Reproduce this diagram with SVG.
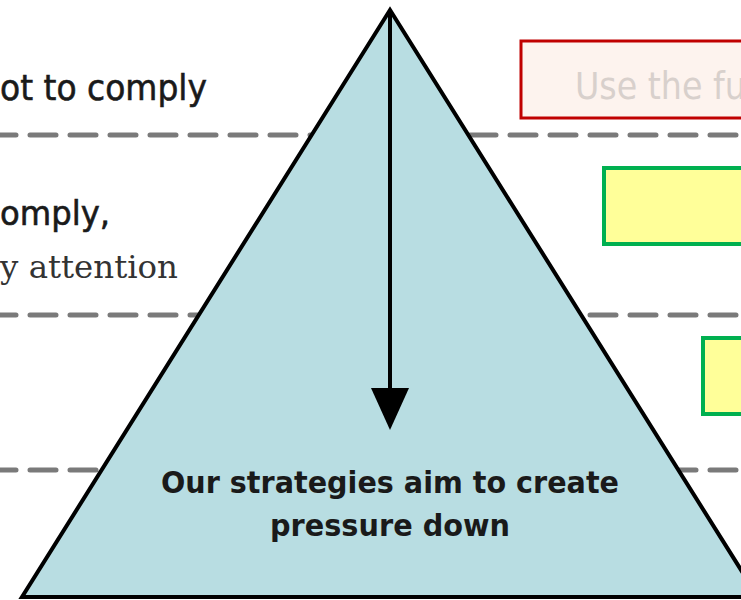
<svg xmlns="http://www.w3.org/2000/svg" width="741" height="600" viewBox="0 0 741 600">
<defs>
<style>
.dash{stroke:#7a7a7a;stroke-width:5;stroke-dasharray:26 14;stroke-linecap:round;fill:none}
.lbl{font-family:"DejaVu Sans",Verdana,sans-serif;fill:#1a1a1a}
.heavy{stroke:#1a1a1a;stroke-width:0.6}
.gbox{fill:#ffff99;stroke:#00b050;stroke-width:4}
</style>
</defs>
<rect width="741" height="600" fill="#ffffff"/>
<g id="connectors">
<line class="dash" x1="-10" y1="135" x2="760" y2="135"/>
<line class="dash" x1="-10" y1="315" x2="760" y2="315"/>
<line class="dash" x1="-10" y1="470" x2="760" y2="470"/>
</g>
<g id="label-1"><text class="lbl heavy" x="0" y="100" font-size="36" textLength="207" lengthAdjust="spacingAndGlyphs">ot to comply</text></g>
<g id="label-2"><text class="lbl heavy" x="0" y="225" font-size="33" textLength="110" lengthAdjust="spacingAndGlyphs">omply,</text>
<text x="0" y="278" font-size="32" fill="#333" font-family="'DejaVu Serif','Liberation Serif',serif" textLength="178" lengthAdjust="spacingAndGlyphs">y attention</text></g>
<g id="box-red"><rect x="521" y="41" width="240" height="77" fill="#fdf3ee" stroke="#c00000" stroke-width="3"/>
<text x="575" y="99" font-size="37" fill="#d8d0cc" font-family="'DejaVu Sans Condensed','DejaVu Sans',sans-serif">Use the fu</text></g>
<g id="box-green-1"><rect class="gbox" x="604" y="168" width="160" height="76"/></g>
<g id="box-green-2"><rect class="gbox" x="703" y="338" width="60" height="76"/></g>
<g id="pyramid">
<polygon points="390,10 22,597 758,597" fill="#b8dde2" stroke="#000" stroke-width="4" stroke-linejoin="miter"/>
<line x1="390" y1="10" x2="390" y2="392" stroke="#000" stroke-width="4"/>
<polygon points="371,388 409,388 390,430" fill="#000"/>
<text class="lbl" x="390" y="493" font-size="30" font-weight="bold" text-anchor="middle" textLength="458" lengthAdjust="spacingAndGlyphs">Our strategies aim to create</text>
<text class="lbl" x="390" y="536" font-size="30" font-weight="bold" text-anchor="middle" textLength="240" lengthAdjust="spacingAndGlyphs">pressure down</text>
</g>
</svg>
